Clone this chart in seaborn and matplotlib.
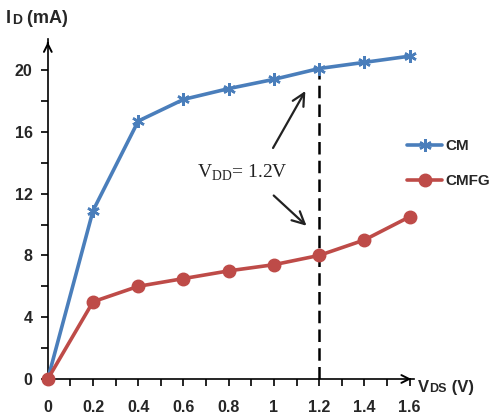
import matplotlib
matplotlib.use("Agg")
import matplotlib.pyplot as plt
from matplotlib.lines import Line2D
import seaborn as sns

# Données
vds = [0, 0.2, 0.4, 0.6, 0.8, 1.0, 1.2, 1.4, 1.6]
id_cm = [0, 10.9, 16.7, 18.1, 18.8, 19.4, 20.1, 20.5, 20.9]
id_cmfg = [0, 5.0, 6.0, 6.5, 7.0, 7.4, 8.0, 9.0, 10.5]
x_ticks = [0, 0.2, 0.4, 0.6, 0.8, 1.0, 1.2, 1.4, 1.6]
x_tick_labels = ["0", "0.2", "0.4", "0.6", "0.8", "1", "1.2", "1.4", "1.6"]
y_ticks = [0, 4, 8, 12, 16, 20]
vdd = 1.2

sns.set_style("white")
plt.rcParams["font.family"] = ["Liberation Sans", "DejaVu Sans"]

BLUE = "#4a7ebb"
RED = "#be4b48"

fig = plt.figure(figsize=(4.93, 4.19), dpi=100)
ax = fig.add_axes([0.097, 0.0955, 0.743, 0.811])

# Courbes
sns.lineplot(x=vds, y=id_cm, color=BLUE, marker=(6, 2, 0), markersize=9,
             markeredgewidth=1.8, markeredgecolor=BLUE, linewidth=2.6,
             ax=ax, clip_on=False, zorder=3)
sns.lineplot(x=vds, y=id_cmfg, color=RED, marker="o", markersize=9,
             markeredgewidth=1.0, markeredgecolor=RED, linewidth=2.6,
             ax=ax, clip_on=False, zorder=3)

# Ligne verticale VDD
ax.plot([vdd, vdd], [0, id_cm[6]], color="black", lw=1.8, ls=(0, (5, 2.5)), zorder=2)

ax.set_xlim(0, 1.62)
ax.set_ylim(0, 22)
ax.set_xticks(x_ticks)
ax.set_xticklabels(x_tick_labels)
ax.set_xticks([x / 10 for x in range(0, 17)], minor=True)
ax.set_yticks(y_ticks)
ax.set_yticks(range(0, 22, 2), minor=True)
ax.tick_params(axis="both", which="both", direction="out", length=5, width=1.2, color="black")
ax.tick_params(axis="x", which="both", bottom=True)
ax.tick_params(axis="y", which="both", left=True)
ax.tick_params(axis="x", labelsize=11.5, pad=10)
ax.tick_params(axis="y", labelsize=11.5, pad=6)
for lab in ax.get_xticklabels() + ax.get_yticklabels():
    lab.set_fontweight("bold")
ax.set_xlabel("")
ax.set_ylabel("")

for s in ["top", "right"]:
    ax.spines[s].set_visible(False)
for s in ["left", "bottom"]:
    ax.spines[s].set_color("black")
    ax.spines[s].set_linewidth(1.2)

# Flèches des axes
ax.annotate("", xy=(1.0, 0), xytext=(0.98, 0), xycoords="axes fraction",
            arrowprops=dict(arrowstyle="->", color="black", lw=1.4, mutation_scale=14))
ax.annotate("", xy=(0, 1.0), xytext=(0, 0.98), xycoords="axes fraction",
            arrowprops=dict(arrowstyle="->", color="black", lw=1.4, mutation_scale=14))

# Titres des axes
t_i = fig.text(0.012, 0.945, "I", fontsize=13, fontweight="bold", va="baseline")
t_d = ax.annotate("D", xy=(1, 0), xycoords=t_i, xytext=(1, 0), textcoords="offset points",
                  fontsize=10, fontweight="bold", va="bottom")
ax.annotate(" (mA)", xy=(1, 0), xycoords=t_d, fontsize=13, fontweight="bold", va="bottom")

t_v = fig.text(0.848, 0.064, "V", fontsize=12, fontweight="bold", va="baseline")
t_ds = ax.annotate("DS", xy=(1, 0), xycoords=t_v, fontsize=9, fontweight="bold", va="bottom")
ax.annotate(" (V)", xy=(1, 0), xycoords=t_ds, fontsize=12, fontweight="bold", va="bottom")

# Annotation VDD
ax.text(0.66, 13.0, r"V$_{\mathregular{DD}}$= 1.2V", fontsize=14,
        family=["Liberation Serif", "DejaVu Serif"], color="#222222", va="baseline")
ax.annotate("", xy=(1.145, 18.8), xytext=(0.99, 14.8),
            arrowprops=dict(arrowstyle="->", color="#222222", lw=1.6, mutation_scale=22))
ax.annotate("", xy=(1.153, 9.8), xytext=(0.99, 12.0),
            arrowprops=dict(arrowstyle="->", color="#222222", lw=1.6, mutation_scale=22))

# Légende
handles = [
    Line2D([], [], color=BLUE, lw=2.6, marker=(6, 2, 0), ms=9, mew=1.8),
    Line2D([], [], color=RED, lw=2.6, marker="o", ms=9, mew=1.0),
]
fig.legend(handles, ["CM", "CMFG"], loc="upper left", bbox_to_anchor=(0.826, 0.668),
           frameon=False, borderpad=0, borderaxespad=0, handlelength=2.3,
           handletextpad=0.2, labelspacing=1.4,
           prop={"weight": "bold", "size": 11})

fig.savefig("out.png", dpi=100)
